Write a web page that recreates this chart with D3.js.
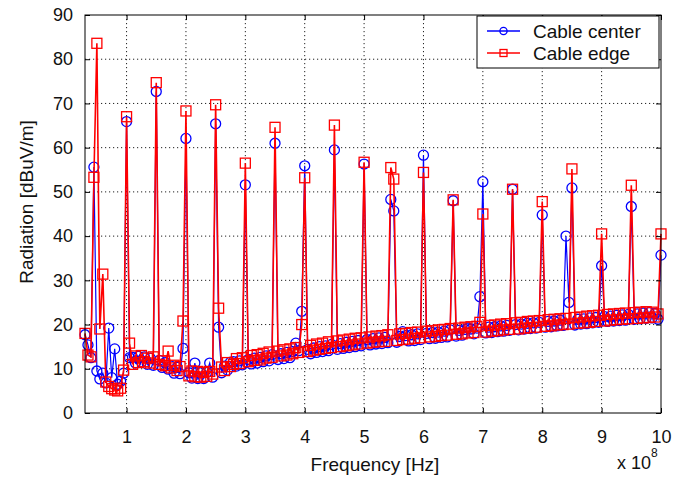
<!DOCTYPE html>
<html>
<head>
<meta charset="utf-8">
<script src="https://cdn.jsdelivr.net/npm/d3@7/dist/d3.min.js"></script>
<style>
  html, body { margin: 0; padding: 0; background: #fff; }
  svg { display: block; font-family: "Liberation Sans", Arial, Helvetica, sans-serif; }
</style>
</head>
<body>
<svg id="chart" width="688" height="478"></svg>
<script>
// Frequency in MHz
const freqMHz = [
  30,35,40,45,50,55,60,65,70,75,
  80,85,90,95,100,105,110,115,120,125,
  130,135,140,145,150,155,160,165,170,175,
  180,185,190,195,200,205,210,215,220,225,
  230,235,240,245,250,255,260,265,270,275,
  280,285,290,295,300,305,310,315,320,325,
  330,335,340,345,350,355,360,365,370,375,
  380,385,390,395,400,405,410,415,420,425,
  430,435,440,445,450,455,460,465,470,475,
  480,485,490,495,500,505,510,515,520,525,
  530,535,540,545,550,555,560,565,570,575,
  580,585,590,595,600,605,610,615,620,625,
  630,635,640,645,650,655,660,665,670,675,
  680,685,690,695,700,705,710,715,720,725,
  730,735,740,745,750,755,760,765,770,775,
  780,785,790,795,800,805,810,815,820,825,
  830,835,840,845,850,855,860,865,870,875,
  880,885,890,895,900,905,910,915,920,925,
  930,935,940,945,950,955,960,965,970,975,
  980,985,990,995,1000
];

// Cable center (dBuV/m)
const cableCenter = [
  17.7,15.4,12.5,55.6,9.5,7.7,9,6.8,19.2,8,
  14.5,6.5,7.2,9,65.9,12.5,12.6,11.3,12.8,11.5,
  12.7,11.0,12.4,10.8,72.7,11.9,10.3,11.4,9.9,10.6,
  9.0,10.3,8.9,14.6,62.1,9.1,7.9,11.3,7.8,9.1,
  7.8,9.2,11.3,8.1,65.4,19.4,9.1,10.6,9.7,11.5,
  11.6,10.6,11.8,10.9,51.6,12.1,11.1,12.4,11.3,12.6,
  11.6,12.9,11.8,13.2,61,12.1,13.4,12.3,13.7,12.5,
  13.9,15.8,14.1,23,55.9,14.4,13.4,14.7,13.7,15.0,
  13.9,15.2,14.1,15.5,59.5,14.4,15.7,14.6,16.0,14.8,
  16.2,15.0,16.4,15.2,56.3,16.6,15.4,16.8,15.6,17.0,
  15.7,17.1,15.9,48.3,45.7,16.0,17.3,18.4,17.5,16.3,
  17.7,16.4,17.9,16.6,58.3,18.0,16.8,18.2,16.9,18.3,
  17.1,18.5,17.2,18.8,48,17.4,18.7,17.6,18.9,19.2,
  19.0,17.9,19.2,26.3,52.3,18.1,19.4,18.2,19.5,18.4,
  19.7,18.5,19.8,18.7,50.6,20.0,18.8,20.1,19.0,20.3,
  19.1,20.4,19.2,20.5,44.8,19.4,20.7,19.5,20.8,19.7,
  21.0,19.8,40,25,50.9,19.9,21.2,20.1,21.3,20.2,
  21.5,20.4,21.6,20.5,33.3,21.8,20.7,21.9,20.8,22.1,
  20.9,22.2,21.0,22.3,46.7,21.2,22.4,21.3,22.6,21.4,
  22.7,21.5,22.5,21.2,35.7
];

// Cable edge (dBuV/m)
const cableEdge = [
  18,13.1,12.7,53.3,83.6,19,31.4,7,6,5.5,
  5.2,5,5.6,9.7,67,15.8,11.0,12.9,11.4,13.0,
  11.6,12.4,11.3,12.7,74.7,11.0,11.8,10.7,14,10.2,
  10.8,9.6,10.5,20.8,68.3,8.4,9.5,8.2,9.4,8.1,
  9.2,8.3,9.4,8.8,69.7,23.7,10.4,9.6,11.4,10.5,
  11.0,12.3,11.2,12.5,56.5,11.6,13.0,11.9,13.2,12.0,
  13.5,12.4,13.8,12.6,64.6,14.0,12.9,14.3,13.1,14.5,
  13.4,14.8,13.7,20,53.2,13.9,15.3,14.2,15.6,14.4,
  15.8,14.6,16.1,14.8,65.1,16.3,15.0,16.5,15.2,16.7,
  15.4,16.9,15.6,17.0,56.7,15.8,17.2,16.0,17.4,16.1,
  17.5,16.2,17.7,55.5,52.9,16.4,17.9,16.6,18.0,16.7,
  18.2,16.9,18.3,17.0,54.4,18.5,17.2,18.6,17.3,18.8,
  17.5,18.9,17.6,19.1,48.2,17.8,19.2,17.9,19.4,18.1,
  19.5,18.2,19.6,20.5,45,18.3,19.8,18.5,19.9,18.6,
  20.1,18.8,20.2,18.9,50.6,20.4,19.0,20.5,19.2,20.7,
  19.3,20.8,19.4,20.9,47.8,19.6,21.1,19.7,21.2,19.9,
  21.3,20.0,21.4,20.1,55.2,21.6,20.3,21.7,20.4,21.9,
  20.5,22.0,20.7,22.1,40.5,20.8,22.3,21.0,22.4,21.1,
  22.5,21.2,22.6,21.3,51.5,22.7,21.4,22.8,21.5,22.9,
  21.6,22.8,21.7,22.4,40.5
];

const xTicks = [100,200,300,400,500,600,700,800,900,1000];
const yTicks = [0,10,20,30,40,50,60,70,80,90];
const seriesNames = ["Cable center", "Cable edge"];

const svg = d3.select("#chart");
const L = 85, R = 661, T = 15, B = 413;
const x = d3.scaleLinear().domain([30, 1000]).range([L, R]);
const y = d3.scaleLinear().domain([0, 90]).range([B, T]);

// grid
const grid = svg.append("g");
grid.selectAll("line.gx").data(xTicks.filter(d => d < 1000)).enter().append("line")
  .attr("x1", d => x(d)).attr("x2", d => x(d)).attr("y1", T).attr("y2", B)
  .attr("stroke", "#222").attr("stroke-width", 1).attr("stroke-dasharray", "1.2,2.8");
grid.selectAll("line.gy").data(yTicks.filter(d => d > 0 && d < 90)).enter().append("line")
  .attr("x1", L).attr("x2", R).attr("y1", d => y(d)).attr("y2", d => y(d))
  .attr("stroke", "#222").attr("stroke-width", 1).attr("stroke-dasharray", "1.2,2.8");

// data
const data = freqMHz.map((f, i) => ({ f, c: cableCenter[i], e: cableEdge[i] }));
const plot = svg.append("g");

const lineC = d3.line().x(d => x(d.f)).y(d => y(d.c));
const lineE = d3.line().x(d => x(d.f)).y(d => y(d.e));

plot.append("path").datum(data).attr("d", lineC)
  .attr("fill", "none").attr("stroke", "#0000ff").attr("stroke-width", 1.2);
plot.selectAll("circle.c").data(data).enter().append("circle")
  .attr("cx", d => x(d.f)).attr("cy", d => y(d.c)).attr("r", 5)
  .attr("fill", "none").attr("stroke", "#0000ff").attr("stroke-width", 1.3);

plot.append("path").datum(data).attr("d", lineE)
  .attr("fill", "none").attr("stroke", "#ff0000").attr("stroke-width", 1.6);
plot.selectAll("rect.e").data(data).enter().append("rect")
  .attr("x", d => x(d.f) - 5).attr("y", d => y(d.e) - 5).attr("width", 10).attr("height", 10)
  .attr("fill", "none").attr("stroke", "#ff0000").attr("stroke-width", 1.3);

// axes
const fontSize = 18;
const xAxis = d3.axisBottom(x).tickValues(xTicks).tickFormat(d => d / 100)
  .tickSizeInner(-5).tickSizeOuter(0).tickPadding(17);
const gx = svg.append("g").attr("transform", `translate(0,${B})`).call(xAxis);
const yAxis = d3.axisLeft(y).tickValues(yTicks).tickSizeInner(-5).tickSizeOuter(0).tickPadding(12);
const gy = svg.append("g").attr("transform", `translate(${L},0)`).call(yAxis);
[gx, gy].forEach(g => {
  g.select(".domain").remove();
  g.selectAll("text").attr("font-size", fontSize).attr("fill", "#111")
    .attr("font-family", "Liberation Sans, Arial, sans-serif");
  g.selectAll("line").attr("stroke", "#000");
});
// top and right ticks
const gTop = svg.append("g").attr("transform", `translate(0,${T})`)
  .call(d3.axisTop(x).tickValues(xTicks).tickFormat("").tickSizeInner(-5).tickSizeOuter(0));
const gRight = svg.append("g").attr("transform", `translate(${R},0)`)
  .call(d3.axisRight(y).tickValues(yTicks).tickFormat("").tickSizeInner(-5).tickSizeOuter(0));
[gTop, gRight].forEach(g => g.select(".domain").remove());

// box
svg.append("rect").attr("x", L).attr("y", T).attr("width", R - L).attr("height", B - T)
  .attr("fill", "none").attr("stroke", "#000").attr("stroke-width", 1);

// axis titles
svg.append("text").attr("x", 375).attr("y", 471).attr("text-anchor", "middle")
  .attr("font-size", 19).attr("fill", "#111").text("Frequency [Hz]");
svg.append("text").attr("transform", "translate(33,202) rotate(-90)").attr("text-anchor", "middle")
  .attr("font-size", 19).attr("fill", "#111").text("Radiation [dBuV/m]");
const exp = svg.append("text").attr("x", 617).attr("y", 469).attr("font-size", 18).attr("fill", "#111");
exp.append("tspan").text("x 10");
exp.append("tspan").attr("dy", -12).attr("font-size", 12).text("8");

// legend
const lg = svg.append("g");
lg.append("rect").attr("x", 477).attr("y", 16).attr("width", 182).attr("height", 52)
  .attr("fill", "#fff").attr("stroke", "#000").attr("stroke-width", 1);
const rows = [{ name: seriesNames[0], color: "#0000ff", shape: "circle", yy: 31 },
              { name: seriesNames[1], color: "#ff0000", shape: "square", yy: 53 }];
rows.forEach(r => {
  lg.append("line").attr("x1", 487).attr("x2", 520).attr("y1", r.yy).attr("y2", r.yy)
    .attr("stroke", r.color).attr("stroke-width", 1.3);
  if (r.shape === "circle") {
    lg.append("circle").attr("cx", 503.5).attr("cy", r.yy).attr("r", 3.6)
      .attr("fill", "none").attr("stroke", r.color).attr("stroke-width", 1.3);
  } else {
    lg.append("rect").attr("x", 500).attr("y", r.yy - 3.5).attr("width", 7).attr("height", 7)
      .attr("fill", "none").attr("stroke", r.color).attr("stroke-width", 1.3);
  }
  lg.append("text").attr("x", 533).attr("y", r.yy + 7).attr("font-size", 19).attr("fill", "#111").text(r.name);
});
</script>
</body>
</html>
